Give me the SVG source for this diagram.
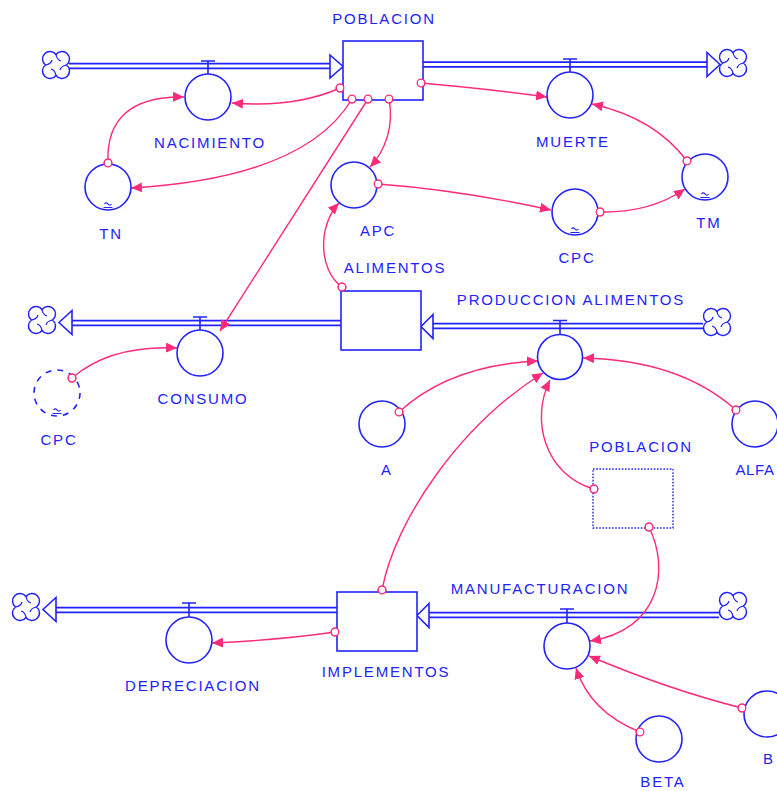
<svg xmlns="http://www.w3.org/2000/svg" width="777" height="791" viewBox="0 0 777 791">
  <style>
    .lbl { font-family: "Liberation Sans", Arial, sans-serif; font-size: 15px; letter-spacing: 1.8px; fill: #2222ff; text-anchor: middle; }
    .stock { fill: #ffffff; stroke: #2222ff; stroke-width: 1.6; }
    .ghost { fill: none; stroke: #2222ff; stroke-width: 1.4; stroke-dasharray: 1.6 1.6; }
    .conv { fill: #ffffff; stroke: #2222ff; stroke-width: 1.6; }
    .conv-ghost { fill: none; stroke: #2222ff; stroke-width: 1.6; stroke-dasharray: 6 6; }
    .valve { fill: none; stroke: #2222ff; stroke-width: 1.6; }
    .gf { fill: none; stroke: #2222ff; stroke-width: 1.2; }
    .pipe-out { fill: none; stroke: #2222ff; stroke-width: 6.4; }
    .pipe-in { fill: none; stroke: #ffffff; stroke-width: 2.8; }
    .pipe-head { fill: #ffffff; stroke: #2222ff; stroke-width: 1.6; stroke-linejoin: miter; }
    .cloud { fill: #ffffff; stroke: #2222ff; stroke-width: 1.5; }
    .link { fill: none; stroke: #ff2a7a; stroke-width: 1.4; marker-end: url(#tip); }
    .link-start { fill: #ffffff; stroke: #ff2a7a; stroke-width: 1.3; }
  </style>
  <defs>
    <marker id="tip" markerUnits="userSpaceOnUse" markerWidth="12" markerHeight="10" refX="11" refY="5" orient="auto">
      <path d="M0,0 L11,5 L0,10 z" fill="#ff2a7a"/>
    </marker>
    <!-- source / sink cloud -->
    <g id="cloud">
      <path class="cloud" d="M0,-10.5 A7.5,7.5 0 1 1 10.5,0 A7.5,7.5 0 1 1 0,10.5 A7.5,7.5 0 1 1 -10.5,0 A7.5,7.5 0 1 1 0,-10.5 Z"/>
      <path class="gf" d="M0,-10.5 Q1,-5 5,-4 M10.5,0 Q5,1 4,5 M0,10.5 Q-1,5 -5,4 M-10.5,0 Q-5,-1 -4,-5"/>
    </g>
    <!-- graphical-function mark inside a converter -->
    <path id="gfmark" class="gf" d="M-3.5,17 q1.7,-2.4 3.5,0 t3.5,0 M-4.5,20.5 h9"/>
  </defs>

  <rect width="777" height="791" fill="#ffffff"/>

  <!-- pipes and connectors -->
  <g id="connectors">
    <g id="pipes">
      <!-- births into POBLACION -->
      <path class="pipe-out" d="M69,66 H332"/><path class="pipe-in" d="M69,66 H332"/>
      <polygon class="pipe-head" points="330,55 343,66.5 330,78"/>
      <!-- deaths out of POBLACION -->
      <path class="pipe-out" d="M423,64.5 H708"/><path class="pipe-in" d="M422,64.5 H708"/>
      <polygon class="pipe-head" points="707,52.5 720,64.5 707,76.5"/>
      <!-- consumption out of ALIMENTOS -->
      <path class="pipe-out" d="M341,323 H71"/><path class="pipe-in" d="M342,323 H71"/>
      <polygon class="pipe-head" points="72,310.5 59,322.5 72,334.5"/>
      <!-- food production into ALIMENTOS -->
      <path class="pipe-out" d="M703,326 H432"/><path class="pipe-in" d="M703,326 H432"/>
      <polygon class="pipe-head" points="433,314.5 421,326.5 433,338.5"/>
      <!-- depreciation out of IMPLEMENTOS -->
      <path class="pipe-out" d="M337,610 H55"/><path class="pipe-in" d="M338,610 H55"/>
      <polygon class="pipe-head" points="56,597.5 43,609.5 56,621.5"/>
      <!-- manufacturing into IMPLEMENTOS -->
      <path class="pipe-out" d="M719,615 H428"/><path class="pipe-in" d="M719,615 H428"/>
      <polygon class="pipe-head" points="429,603.5 417,615.5 429,627.5"/>
    </g>
    <g id="links">
      <path class="link" d="M340,88 Q295,108 232,103"/>
      <path class="link" d="M108,163 C106,120 130,96 184,97"/>
      <path class="link" d="M352,99 Q305,178 131,188"/>
      <path class="link" d="M368,99 L220,331"/>
      <path class="link" d="M389,99 C394,125 386,150 370,167"/>
      <path class="link" d="M378,184 Q460,190 551,210"/>
      <path class="link" d="M600,212 Q650,213 685,189"/>
      <path class="link" d="M687,161 Q655,118 592,104"/>
      <path class="link" d="M421,83 Q480,88 547,97"/>
      <path class="link" d="M342,287 C318,270 318,225 339,203"/>
      <path class="link" d="M72,378 Q110,345 177,348"/>
      <path class="link" d="M399,412 Q450,365 538,361"/>
      <path class="link" d="M382,590 C395,520 460,425 543,373"/>
      <path class="link" d="M594,489 C545,475 530,420 550,380"/>
      <path class="link" d="M736,410 Q680,360 583,358"/>
      <path class="link" d="M649,527 C670,570 660,630 590,641"/>
      <path class="link" d="M742,708 Q670,690 589,656"/>
      <path class="link" d="M640,732 Q590,712 576,668"/>
      <path class="link" d="M335,632 Q280,640 212,643"/>
    </g>
    <g id="link-origins">
      <circle class="link-start" cx="340" cy="88" r="3.8"/>
      <circle class="link-start" cx="108" cy="163" r="3.8"/>
      <circle class="link-start" cx="352" cy="99" r="3.8"/>
      <circle class="link-start" cx="368" cy="99" r="3.8"/>
      <circle class="link-start" cx="389" cy="99" r="3.8"/>
      <circle class="link-start" cx="378" cy="184" r="3.8"/>
      <circle class="link-start" cx="600" cy="212" r="3.8"/>
      <circle class="link-start" cx="687" cy="161" r="3.8"/>
      <circle class="link-start" cx="421" cy="83" r="3.8"/>
      <circle class="link-start" cx="342" cy="287" r="3.8"/>
      <circle class="link-start" cx="72" cy="378" r="3.8"/>
      <circle class="link-start" cx="399" cy="412" r="3.8"/>
      <circle class="link-start" cx="382" cy="590" r="3.8"/>
      <circle class="link-start" cx="594" cy="489" r="3.8"/>
      <circle class="link-start" cx="736" cy="410" r="3.8"/>
      <circle class="link-start" cx="649" cy="527" r="3.8"/>
      <circle class="link-start" cx="742" cy="708" r="3.8"/>
      <circle class="link-start" cx="640" cy="732" r="3.8"/>
      <circle class="link-start" cx="335" cy="632" r="3.8"/>
    </g>
  </g>

  <!-- clouds -->
  <g id="cloud-births"><use href="#cloud" x="56" y="65"/></g>
  <g id="cloud-deaths"><use href="#cloud" x="733" y="63"/></g>
  <g id="cloud-consumo"><use href="#cloud" x="42" y="320"/></g>
  <g id="cloud-produccion"><use href="#cloud" x="717" y="322"/></g>
  <g id="cloud-depreciacion"><use href="#cloud" x="26" y="607"/></g>
  <g id="cloud-manufacturacion"><use href="#cloud" x="733" y="606"/></g>

  <!-- stocks -->
  <g id="poblacion">
    <rect class="stock" x="343" y="41" width="80" height="59"/>
    <text class="lbl" x="384" y="24">POBLACION</text>
  </g>
  <g id="alimentos">
    <rect class="stock" x="341" y="291" width="80" height="59"/>
    <text class="lbl" x="395" y="273">ALIMENTOS</text>
  </g>
  <g id="implementos">
    <rect class="stock" x="337" y="592" width="80" height="59"/>
    <text class="lbl" x="386" y="677">IMPLEMENTOS</text>
  </g>
  <g id="poblacion-ghost">
    <rect class="ghost" x="593" y="469" width="80" height="59"/>
    <text class="lbl" x="641" y="452">POBLACION</text>
  </g>

  <!-- flows (valves) -->
  <g id="nacimiento">
    <path class="valve" d="M201,61 H215 M208,61 V74"/>
    <circle class="conv" cx="208" cy="97" r="23"/>
    <text class="lbl" x="210" y="148">NACIMIENTO</text>
  </g>
  <g id="muerte">
    <path class="valve" d="M563,59 H577 M570,59 V72"/>
    <circle class="conv" cx="570" cy="95" r="23"/>
    <text class="lbl" x="573" y="147">MUERTE</text>
  </g>
  <g id="consumo">
    <path class="valve" d="M193,317 H207 M200,317 V330"/>
    <circle class="conv" cx="200" cy="353" r="23"/>
    <text class="lbl" x="203" y="404">CONSUMO</text>
  </g>
  <g id="produccion-alimentos">
    <path class="valve" d="M553,320.5 H567 M560,320.5 V334.5"/>
    <circle class="conv" cx="560" cy="357" r="22.5"/>
    <text class="lbl" x="571" y="305">PRODUCCION ALIMENTOS</text>
  </g>
  <g id="depreciacion">
    <path class="valve" d="M182,603 H196 M189,603 V617"/>
    <circle class="conv" cx="189" cy="640" r="23"/>
    <text class="lbl" x="193" y="691">DEPRECIACION</text>
  </g>
  <g id="manufacturacion">
    <path class="valve" d="M560,609 H574 M567,609 V623"/>
    <circle class="conv" cx="567" cy="646" r="23"/>
    <text class="lbl" x="540" y="594">MANUFACTURACION</text>
  </g>

  <!-- converters -->
  <g id="tn">
    <circle class="conv" cx="108" cy="187" r="23"/>
    <use href="#gfmark" x="108" y="187"/>
    <text class="lbl" x="111" y="239">TN</text>
  </g>
  <g id="apc">
    <circle class="conv" cx="354" cy="185" r="23"/>
    <text class="lbl" x="378" y="236">APC</text>
  </g>
  <g id="cpc">
    <circle class="conv" cx="575" cy="212" r="23"/>
    <use href="#gfmark" x="575" y="212"/>
    <text class="lbl" x="577" y="263">CPC</text>
  </g>
  <g id="tm">
    <circle class="conv" cx="705" cy="177" r="23"/>
    <use href="#gfmark" x="705" y="177"/>
    <text class="lbl" x="709" y="228">TM</text>
  </g>
  <g id="cpc-ghost">
    <circle class="conv-ghost" cx="57" cy="393" r="23"/>
    <use href="#gfmark" x="57" y="393"/>
    <text class="lbl" x="59" y="445">CPC</text>
  </g>
  <g id="a">
    <circle class="conv" cx="382" cy="424" r="23"/>
    <text class="lbl" x="387" y="475">A</text>
  </g>
  <g id="alfa">
    <circle class="conv" cx="755" cy="424" r="23"/>
    <text class="lbl" x="755" y="475" style="letter-spacing:0.6px">ALFA</text>
  </g>
  <g id="beta">
    <circle class="conv" cx="659" cy="739" r="23"/>
    <text class="lbl" x="663" y="787">BETA</text>
  </g>
  <g id="b">
    <circle class="conv" cx="767" cy="714" r="23"/>
    <text class="lbl" x="769" y="764">B</text>
  </g>

  <!-- link origins drawn over node outlines -->
  <use href="#link-origins"/>
</svg>
